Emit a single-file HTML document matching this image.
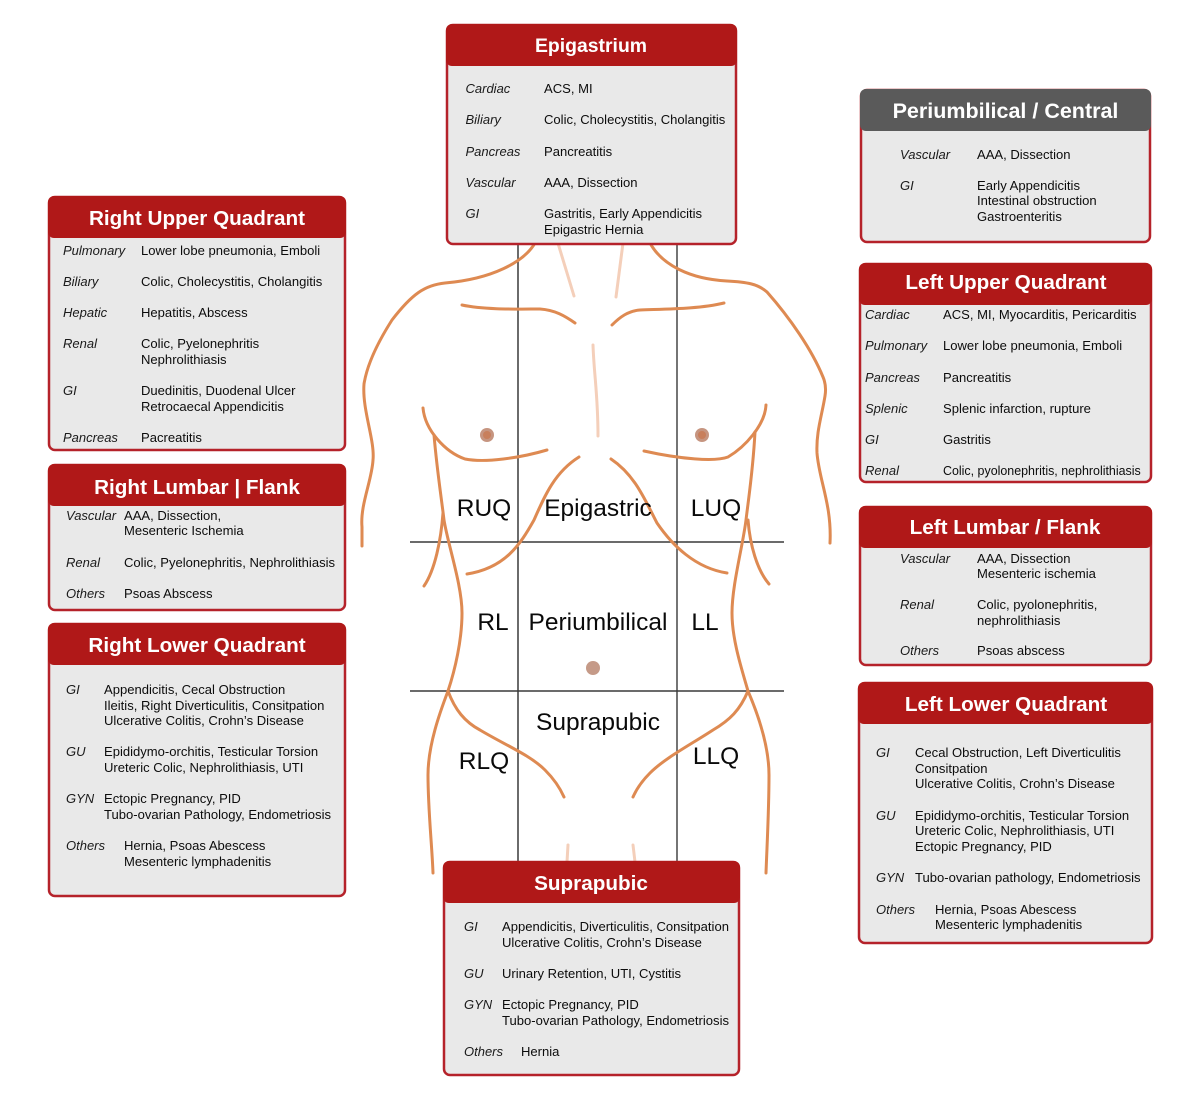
<!DOCTYPE html>
<html><head><meta charset="utf-8"><style>
html,body{margin:0;padding:0;background:#fff}
svg{display:block}
text{font-family:"Liberation Sans",Arial,sans-serif;fill:#0c0c0c}
.t{font-size:13.05px}
.i{font-size:13px;font-style:italic;fill:#1a1a1a}
.h{font-size:20.7px;font-weight:bold;fill:#fff;text-anchor:middle}
.l{font-size:24.5px;text-anchor:middle;fill:#0a0a0a}
.b{fill:none;stroke:#de8a52;stroke-width:3;stroke-linecap:round;stroke-linejoin:round}
.f{fill:none;stroke:#f4cfba;stroke-width:3;stroke-linecap:round}
.p{fill:#e9e9e9;stroke:#b5222a;stroke-width:2.5}
.r{fill:#b01818}
</style></head><body>
<svg width="1200" height="1100" viewBox="0 0 1200 1100" xmlns="http://www.w3.org/2000/svg">
<rect width="1200" height="1100" fill="#fff"/>
<path d="M518 240V865" stroke="#1c1c1c" stroke-width="1.3" fill="none"/>
<path d="M677 240V865M410 542H784M410 691H784" stroke="#3a3a3a" stroke-width="1.4" fill="none"/>
<path class="b" d="M535 243C524 262 492 279 445 283C425 285 412 294 392 320C378 342 367 365 364 384C362 410 375 440 373 460C372 480 360 505 362 527L362 546"/>
<path class="b" d="M650 243C662 265 690 279 727 281C747 282 758 284 767 292C790 318 812 350 823 377C826 384 826 390 825 396C822 415 816 432 817 453C819 480 832 505 830 543"/>
<path class="b" d="M462 305C485 310 520 309 540 309C555 310 565 316 575 323"/>
<path class="b" d="M724 303C700 309 665 309 640 310C628 311 620 317 612 325"/>
<path class="f" d="M557 240L574 296M623 243L616 297M593 345C594 375 598 395 598 436M568 845L567 862M633 845L635 862"/>
<path class="b" d="M423 408C425 430 445 452 465 459C485 463 520 458 547 450"/>
<path class="b" d="M766 405C765 425 745 447 728 457C715 462 680 459 644 451"/>
<circle cx="487" cy="435" r="7" fill="#c69580"/><circle cx="487" cy="435" r="4" fill="#c87f5c"/>
<circle cx="702" cy="435" r="7" fill="#c69580"/><circle cx="702" cy="435" r="4" fill="#c87f5c"/>
<path class="b" d="M434 435C437 470 441 495 444 520C448 545 462 585 462 613C462 640 455 670 448 691C440 712 428 745 428 775C428 810 432 845 433 873"/>
<path class="b" d="M443 513C441 540 435 570 424 586"/>
<path class="b" d="M755 432C753 470 749 495 746 520C743 545 732 585 732 613C732 640 742 670 748 691C757 712 769 745 769 775C769 810 767 845 766 873"/>
<path class="b" d="M748 520C750 545 757 570 769 584"/>
<path class="b" d="M579 457C555 472 545 495 534 520C520 545 505 568 467 574"/>
<path class="b" d="M611 459C635 475 645 500 657 523C672 545 695 568 727 573"/>
<path class="b" d="M448 691C455 710 465 722 480 730C505 745 530 755 545 770C553 778 560 788 564 797"/>
<path class="b" d="M748 691C740 710 730 720 713 730C690 745 665 758 650 773C642 781 637 788 633 797"/>
<g>
<text class="l" x="484" y="516">RUQ</text><text class="l" x="598" y="516">Epigastric</text><text class="l" x="716" y="516">LUQ</text>
<text class="l" x="493" y="630">RL</text><text class="l" x="598" y="630">Periumbilical</text><text class="l" x="705" y="630">LL</text>
<text class="l" x="598" y="730">Suprapubic</text><text class="l" x="484" y="769">RLQ</text><text class="l" x="716" y="764">LLQ</text>
</g>
<circle cx="593" cy="668" r="7" fill="#c59a88"/>

<rect class="p" x="447" y="25" width="289" height="219" rx="6"/><rect class="r" x="446" y="24" width="291" height="42" rx="6"/>
<text class="h" x="591" y="52" style="font-size:19.4px">Epigastrium</text>
<text class="i" x="465.500" y="93">Cardiac</text><text class="t" x="544" y="93">ACS, MI</text>
<text class="i" x="465.500" y="124">Biliary</text><text class="t" x="544" y="124">Colic, Cholecystitis, Cholangitis</text>
<text class="i" x="465.500" y="156">Pancreas</text><text class="t" x="544" y="156">Pancreatitis</text>
<text class="i" x="465.500" y="187">Vascular</text><text class="t" x="544" y="187">AAA, Dissection</text>
<text class="i" x="465.500" y="218">GI</text><text class="t" x="544" y="218">Gastritis, Early Appendicitis</text><text class="t" x="544" y="234">Epigastric Hernia</text>

<rect class="p" x="861" y="90" width="289" height="152" rx="6"/><rect x="860" y="89" width="291" height="42" rx="6" fill="#5a5a5a"/>
<text class="h" x="1005.500" y="118" style="font-size:21.5px">Periumbilical / Central</text>
<text class="i" x="900" y="159">Vascular</text><text class="t" x="977" y="159">AAA, Dissection</text>
<text class="i" x="900" y="190">GI</text><text class="t" x="977" y="190">Early Appendicitis</text><text class="t" x="977" y="205">Intestinal obstruction</text><text class="t" x="977" y="221">Gastroenteritis</text>

<rect class="p" x="49" y="197" width="296" height="253" rx="6"/><rect class="r" x="48" y="196" width="298" height="42" rx="6"/>
<text class="h" x="197" y="225">Right Upper Quadrant</text>
<text class="i" x="63" y="255">Pulmonary</text><text class="t" x="141" y="255">Lower lobe pneumonia, Emboli</text>
<text class="i" x="63" y="286">Biliary</text><text class="t" x="141" y="286">Colic, Cholecystitis, Cholangitis</text>
<text class="i" x="63" y="317">Hepatic</text><text class="t" x="141" y="317">Hepatitis, Abscess</text>
<text class="i" x="63" y="348">Renal</text><text class="t" x="141" y="348">Colic, Pyelonephritis</text><text class="t" x="141" y="364">Nephrolithiasis</text>
<text class="i" x="63" y="395">GI</text><text class="t" x="141" y="395">Duedinitis, Duodenal Ulcer</text><text class="t" x="141" y="411">Retrocaecal Appendicitis</text>
<text class="i" x="63" y="442">Pancreas</text><text class="t" x="141" y="442">Pacreatitis</text>

<rect class="p" x="49" y="465" width="296" height="145" rx="6"/><rect class="r" x="48" y="464" width="298" height="42" rx="6"/>
<text class="h" x="197" y="494">Right Lumbar | Flank</text>
<text class="i" x="66" y="520">Vascular</text><text class="t" x="124" y="520">AAA, Dissection,</text><text class="t" x="124" y="535">Mesenteric Ischemia</text>
<text class="i" x="66" y="567">Renal</text><text class="t" x="124" y="567">Colic, Pyelonephritis, Nephrolithiasis</text>
<text class="i" x="66" y="598">Others</text><text class="t" x="124" y="598">Psoas Abscess</text>

<rect class="p" x="49" y="624" width="296" height="272" rx="6"/><rect class="r" x="48" y="623" width="298" height="42" rx="6"/>
<text class="h" x="197" y="652">Right Lower Quadrant</text>
<text class="i" x="66" y="694">GI</text><text class="t" x="104" y="694">Appendicitis, Cecal Obstruction</text><text class="t" x="104" y="710">Ileitis, Right Diverticulitis, Consitpation</text><text class="t" x="104" y="725">Ulcerative Colitis, Crohn’s Disease</text>
<text class="i" x="66" y="756">GU</text><text class="t" x="104" y="756">Epididymo-orchitis, Testicular Torsion</text><text class="t" x="104" y="772">Ureteric Colic, Nephrolithiasis, UTI</text>
<text class="i" x="66" y="803">GYN</text><text class="t" x="104" y="803">Ectopic Pregnancy, PID</text><text class="t" x="104" y="819">Tubo-ovarian Pathology, Endometriosis</text>
<text class="i" x="66" y="850">Others</text><text class="t" x="124" y="850">Hernia, Psoas Abescess</text><text class="t" x="124" y="866">Mesenteric lymphadenitis</text>

<rect class="p" x="860" y="264" width="291" height="218" rx="6"/><rect class="r" x="859" y="263" width="293" height="42" rx="6"/>
<text class="h" x="1006" y="289">Left Upper Quadrant</text>
<text class="i" x="865" y="319">Cardiac</text><text class="t" x="943" y="319">ACS, MI, Myocarditis, Pericarditis</text>
<text class="i" x="865" y="350">Pulmonary</text><text class="t" x="943" y="350">Lower lobe pneumonia, Emboli</text>
<text class="i" x="865" y="382">Pancreas</text><text class="t" x="943" y="382">Pancreatitis</text>
<text class="i" x="865" y="413">Splenic</text><text class="t" x="943" y="413">Splenic infarction, rupture</text>
<text class="i" x="865" y="444">GI</text><text class="t" x="943" y="444">Gastritis</text>
<text class="i" x="865" y="475">Renal</text><text class="t" x="943" y="475" style="font-size:12.45px">Colic, pyolonephritis, nephrolithiasis</text>

<rect class="p" x="860" y="507" width="291" height="158" rx="6"/><rect class="r" x="859" y="506" width="293" height="42" rx="6"/>
<text class="h" x="1005" y="534">Left Lumbar / Flank</text>
<text class="i" x="900" y="563">Vascular</text><text class="t" x="977" y="563">AAA, Dissection</text><text class="t" x="977" y="578">Mesenteric ischemia</text>
<text class="i" x="900" y="609">Renal</text><text class="t" x="977" y="609">Colic, pyolonephritis,</text><text class="t" x="977" y="625">nephrolithiasis</text>
<text class="i" x="900" y="655">Others</text><text class="t" x="977" y="655">Psoas abscess</text>

<rect class="p" x="859" y="683" width="293" height="260" rx="6"/><rect class="r" x="858" y="682" width="295" height="42" rx="6"/>
<text class="h" x="1006" y="711">Left Lower Quadrant</text>
<text class="i" x="876" y="757">GI</text><text class="t" x="915" y="757">Cecal Obstruction, Left Diverticulitis</text><text class="t" x="915" y="773">Consitpation</text><text class="t" x="915" y="788">Ulcerative Colitis, Crohn’s Disease</text>
<text class="i" x="876" y="820">GU</text><text class="t" x="915" y="820">Epididymo-orchitis, Testicular Torsion</text><text class="t" x="915" y="835">Ureteric Colic, Nephrolithiasis, UTI</text><text class="t" x="915" y="851">Ectopic Pregnancy, PID</text>
<text class="i" x="876" y="882">GYN</text><text class="t" x="915" y="882">Tubo-ovarian pathology, Endometriosis</text>
<text class="i" x="876" y="914">Others</text><text class="t" x="935" y="914">Hernia, Psoas Abescess</text><text class="t" x="935" y="929">Mesenteric lymphadenitis</text>

<rect class="p" x="444" y="862" width="295" height="213" rx="6"/><rect class="r" x="443" y="861" width="297" height="42" rx="6"/>
<text class="h" x="591" y="890">Suprapubic</text>
<text class="i" x="464" y="931">GI</text><text class="t" x="502" y="931">Appendicitis, Diverticulitis, Consitpation</text><text class="t" x="502" y="947">Ulcerative Colitis, Crohn’s Disease</text>
<text class="i" x="464" y="978">GU</text><text class="t" x="502" y="978">Urinary Retention, UTI, Cystitis</text>
<text class="i" x="464" y="1009">GYN</text><text class="t" x="502" y="1009">Ectopic Pregnancy, PID</text><text class="t" x="502" y="1025">Tubo-ovarian Pathology, Endometriosis</text>
<text class="i" x="464" y="1056">Others</text><text class="t" x="521" y="1056">Hernia</text>
</svg>
</body></html>
